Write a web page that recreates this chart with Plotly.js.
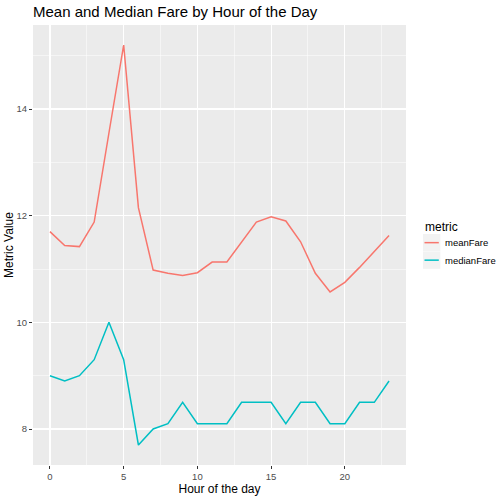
<!DOCTYPE html>
<html>
<head>
<meta charset="utf-8">
<script src="https://cdn.plot.ly/plotly-3.0.1.min.js"></script>
<style>html,body{margin:0;padding:0;background:#fff}#chart{width:500px;height:500px}</style>
</head>
<body>
<div id="chart"></div>
<script>
const hours = [0,1,2,3,4,5,6,7,8,9,10,11,12,13,14,15,16,17,18,19,20,21,22,23];
const meanFare = [11.70,11.44,11.42,11.88,13.55,15.20,12.15,10.98,10.92,10.88,10.93,11.13,11.13,11.51,11.88,11.98,11.90,11.51,10.92,10.57,10.75,11.03,11.33,11.63];
const medianFare = [9.0,8.9,9.0,9.3,10.0,9.3,7.7,8.0,8.1,8.5,8.1,8.1,8.1,8.5,8.5,8.5,8.1,8.5,8.5,8.1,8.1,8.5,8.5,8.9];
const seriesNames = ["meanFare","medianFare"];
const seriesColors = ["#F8766D","#00BFC4"];
const legendTitle = "metric";

const font = "Liberation Sans, Arial, sans-serif";
const traces = [meanFare, medianFare].map((vals, i) => ({
  x: hours, y: vals, type: "scatter", mode: "lines", name: seriesNames[i],
  line: {color: seriesColors[i], width: 1.5}, showlegend: false
}));

// plot area in pixels: left 33, right 406, top 25, bottom 465
const L = 33, R = 406, T = 25, B = 465;
const px = x => (x - L) / (R - L);
const py = y => (B - y) / (B - T);

const shapes = [];
const annotations = [{
  xref: "paper", yref: "paper", x: px(423), y: py(227), xanchor: "left", yanchor: "middle",
  text: legendTitle, showarrow: false, font: {size: 12, family: font, color: "#000"}
}];
seriesNames.forEach((name, i) => {
  const top = 234 + i * 17.5, bot = top + 17.3, mid = (top + bot) / 2;
  shapes.push({type: "rect", xref: "paper", yref: "paper", x0: px(423), x1: px(440.3), y0: py(bot), y1: py(top),
    fillcolor: "#F2F2F2", line: {width: 0}, layer: "below"});
  shapes.push({type: "line", xref: "paper", yref: "paper", x0: px(424.5), x1: px(438.8), y0: py(mid), y1: py(mid),
    line: {color: seriesColors[i], width: 1.5}});
  annotations.push({xref: "paper", yref: "paper", x: px(443), y: py(mid), xanchor: "left", yanchor: "middle",
    text: name, showarrow: false, font: {size: 9.5, family: font, color: "#000"}});
});

const layout = {
  width: 500, height: 500,
  margin: {l: L, r: 500 - R, t: T, b: 500 - B, autoexpand: false},
  paper_bgcolor: "#ffffff",
  plot_bgcolor: "#EBEBEB",
  font: {family: font, color: "#000"},
  title: {text: "Mean and Median Fare by Hour of the Day", x: 33/500, xanchor: "left", xref: "container", y: 0.976, yanchor: "middle", yref: "container", font: {size: 15, family: font, color: "#000"}},
  xaxis: {
    range: [-1.15, 24.15], tickvals: [0,5,10,15,20], ticktext: ["0","5","10","15","20"],
    showgrid: true, gridcolor: "#ffffff", gridwidth: 1.1, zeroline: false,
    ticks: "outside", ticklen: 3, tickcolor: "#333333", tickwidth: 1,
    tickfont: {size: 9.5, color: "#4D4D4D", family: font},
    minor: {tickvals: [2.5,7.5,12.5,17.5,22.5], showgrid: true, gridcolor: "#ffffff", gridwidth: 0.5, ticks: ""},
    title: {text: "Hour of the day", font: {size: 12, color: "#000", family: font}, standoff: 1},
    showline: false, automargin: false
  },
  yaxis: {
    range: [7.325, 15.575], tickvals: [8,10,12,14], ticktext: ["8","10","12","14"],
    showgrid: true, gridcolor: "#ffffff", gridwidth: 1.1, zeroline: false,
    ticks: "outside", ticklen: 3, tickcolor: "#333333", tickwidth: 1,
    tickfont: {size: 9.5, color: "#4D4D4D", family: font},
    minor: {tickvals: [9,11,13,15], showgrid: true, gridcolor: "#ffffff", gridwidth: 0.5, ticks: ""},
    title: {text: "Metric Value", font: {size: 12, color: "#000", family: font}, standoff: 0},
    showline: false, automargin: false
  },
  shapes: shapes,
  annotations: annotations,
  showlegend: false
};

Plotly.newPlot("chart", traces, layout, {displayModeBar: false, staticPlot: true});
</script>
</body>
</html>
